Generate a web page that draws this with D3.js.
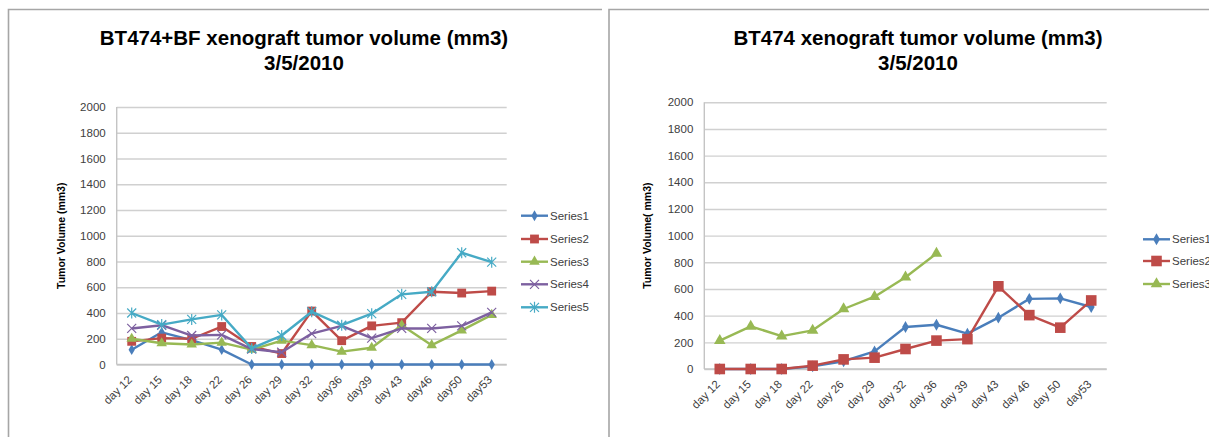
<!DOCTYPE html>
<html>
<head>
<meta charset="utf-8">
<script src="https://cdn.jsdelivr.net/npm/d3@7"></script>
<style>
  body { margin: 0; background: #fff; }
  svg { display: block; }
</style>
</head>
<body>
<svg id="chart" width="1209" height="437"></svg>
<script>
// tick labels / categories
let daysLeft = ['day 12', 'day 15', 'day 18', 'day 22', 'day 26', 'day 29', 'day 32', 'day36', 'day39', 'day 43', 'day46', 'day50', 'day53']
let daysRight = ['day 12', 'day 15', 'day 18', 'day 22', 'day 26', 'day 29', 'day 32', 'day 36', 'day 39', 'day 43', 'day 46', 'day 50', 'day53']
let yTicks = [0, 200, 400, 600, 800, 1000, 1200, 1400, 1600, 1800, 2000]

// BT474+BF (left chart)
let bfSeries1 = [115, 250, 190, 115, 0, 0, 0, 0, 0, 0, 0, 0, 0]
let bfSeries2 = [180, 205, 200, 295, 140, 85, 415, 185, 300, 325, 565, 555, 570]
let bfSeries3 = [200, 165, 155, 170, 115, 185, 150, 100, 130, 305, 150, 265, 385]
let bfSeries4 = [280, 305, 225, 230, 120, 95, 240, 300, 205, 280, 280, 300, 405]
let bfSeries5 = [400, 310, 350, 385, 125, 225, 410, 305, 395, 545, 565, 868, 795]

// BT474 (right chart)
let btSeries1 = [0, 0, 0, 20, 58, 132, 315, 332, 265, 385, 526, 530, 465]
let btSeries2 = [0, 0, 0, 25, 72, 85, 150, 213, 224, 620, 404, 310, 514]
let btSeries3 = [213, 320, 247, 290, 450, 542, 688, 866, null, null, null, null, null]

let seriesNames = ['Series1', 'Series2', 'Series3', 'Series4', 'Series5']
let colors = ['#4a7ebb', '#be4b48', '#98b954', '#7d60a0', '#46aac5']
let markers = ['diamond', 'square', 'triangle', 'x', 'star']

let font = 'Liberation Sans, Arial, sans-serif'
let svg = d3.select('#chart')

// frames
svg.append('path')
  .attr('d', 'M8.5,437 V9.5 H602')
  .attr('fill', 'none').attr('stroke', '#a6a6a6').attr('stroke-width', 1.6)
svg.append('path')
  .attr('d', 'M609,437 V9.5 H1209')
  .attr('fill', 'none').attr('stroke', '#a6a6a6').attr('stroke-width', 1.6)

function drawMarker(g, type, x, y, color, big) {
  let s = big ? 1.2 : 1
  if (type == 'diamond') {
    g.append('path').attr('transform', 'translate(' + x + ',' + y + ')')
      .attr('d', d3.symbol().type(d3.symbolDiamond).size(34 * s)())
      .attr('fill', color)
  } else if (type == 'square') {
    g.append('path').attr('transform', 'translate(' + x + ',' + y + ')')
      .attr('d', d3.symbol().type(d3.symbolSquare).size(78 * s * s)())
      .attr('fill', color)
  } else if (type == 'triangle') {
    g.append('path').attr('transform', 'translate(' + x + ',' + y + ')')
      .attr('d', d3.symbol().type(d3.symbolTriangle).size(48 * s)())
      .attr('fill', color)
  } else if (type == 'x') {
    let r = 4.5
    g.append('path')
      .attr('d', 'M' + (x - r) + ',' + (y - r) + 'L' + (x + r) + ',' + (y + r) + 'M' + (x - r) + ',' + (y + r) + 'L' + (x + r) + ',' + (y - r))
      .attr('stroke', color).attr('stroke-width', 1.2).attr('fill', 'none')
  } else if (type == 'star') {
    let r = 4.5
    g.append('path')
      .attr('d', 'M' + (x - r) + ',' + (y - r) + 'L' + (x + r) + ',' + (y + r) + 'M' + (x - r) + ',' + (y + r) + 'L' + (x + r) + ',' + (y - r) + 'M' + x + ',' + (y - r - 1) + 'L' + x + ',' + (y + r + 1))
      .attr('stroke', color).attr('stroke-width', 1.2).attr('fill', 'none')
  }
}

function drawChart(cfg) {
  let x = d3.scalePoint().domain(cfg.days).range([cfg.left, cfg.right]).padding(0.5)
  let y = d3.scaleLinear().domain([0, 2000]).range([cfg.bottom, cfg.top])

  let g = svg.append('g')

  // gridlines + y tick labels
  g.append('g')
    .attr('transform', 'translate(' + cfg.left + ',0)')
    .call(d3.axisLeft(y).tickValues(yTicks).tickFormat(d3.format('d'))
      .tickSize(-(cfg.right - cfg.left)).tickPadding(11))
    .call(a => a.select('.domain').remove())
    .call(a => a.selectAll('line').attr('stroke', '#d0d0d0').attr('stroke-width', 1.4))
    .call(a => a.selectAll('text').attr('font-family', font)
      .attr('font-size', '11.5px').attr('fill', '#404040'))

  // axis lines
  g.append('line').attr('x1', cfg.left).attr('x2', cfg.left).attr('y1', cfg.top).attr('y2', cfg.bottom)
    .attr('stroke', '#c4c4c4').attr('stroke-width', 1.4)
  g.append('line').attr('x1', cfg.left).attr('x2', cfg.right).attr('y1', cfg.bottom).attr('y2', cfg.bottom)
    .attr('stroke', '#c4c4c4').attr('stroke-width', 1.4)

  // x labels
  g.selectAll('.xl').data(cfg.days).enter().append('text')
    .attr('transform', d => 'translate(' + (x(d) + 1) + ',' + (cfg.bottom + 16) + ') rotate(-45)')
    .attr('text-anchor', 'end')
    .attr('font-family', font)
    .attr('font-size', '11.5px').attr('fill', '#404040')
    .text(d => d)

  // y title
  g.append('text')
    .attr('transform', 'translate(' + cfg.yTitleX + ',' + ((cfg.top + cfg.bottom) / 2) + ') rotate(-90)')
    .attr('text-anchor', 'middle')
    .attr('font-family', font)
    .attr('font-weight', 'bold').attr('font-size', '10.5px').attr('fill', '#000')
    .text(cfg.yTitle)

  // title
  let t = g.append('text').attr('text-anchor', 'middle')
    .attr('font-family', font)
    .attr('font-weight', 'bold').attr('font-size', '20.5px').attr('fill', '#000')
  t.append('tspan').attr('x', cfg.titleX).attr('y', 45).text(cfg.title)
  t.append('tspan').attr('x', cfg.titleX).attr('y', 70).text('3/5/2010')

  // lines
  let line = d3.line()
    .defined(d => d != null)
    .x((d, i) => x(cfg.days[i]))
    .y(d => y(d))

  cfg.series.forEach((vals, k) => {
    g.append('path').datum(vals)
      .attr('fill', 'none').attr('stroke', colors[k]).attr('stroke-width', 2.4)
      .attr('stroke-linejoin', 'round')
      .attr('d', line)
    vals.forEach((v, i) => {
      if (v != null) drawMarker(g, markers[k], x(cfg.days[i]), y(v), colors[k], cfg.big)
    })
  })

  // legend
  cfg.series.forEach((vals, k) => {
    let ly = cfg.legendY[k]
    g.append('line').attr('x1', cfg.legendX).attr('x2', cfg.legendX + 27).attr('y1', ly).attr('y2', ly)
      .attr('stroke', colors[k]).attr('stroke-width', 2.4)
    drawMarker(g, markers[k], cfg.legendX + 13.5, ly, colors[k], cfg.big)
    g.append('text').attr('x', cfg.legendX + 29).attr('y', ly + 4)
      .attr('font-family', font)
      .attr('font-size', '11.5px').attr('fill', '#404040')
      .text(seriesNames[k])
  })
}

drawChart({
  days: daysLeft,
  series: [bfSeries1, bfSeries2, bfSeries3, bfSeries4, bfSeries5],
  left: 116.7, right: 506.7, top: 107, bottom: 364.5,
  title: 'BT474+BF xenograft tumor volume (mm3)', titleX: 304,
  yTitle: 'Tumor Volume (mm3)', yTitleX: 65,
  legendX: 521, legendY: [215.7, 239, 261.7, 284.3, 307.3],
  big: false
})

drawChart({
  days: daysRight,
  series: [btSeries1, btSeries2, btSeries3],
  left: 704.3, right: 1106.7, top: 102.3, bottom: 369,
  title: 'BT474 xenograft tumor volume (mm3)', titleX: 918,
  yTitle: 'Tumor Volume( mm3)', yTitleX: 651,
  legendX: 1143, legendY: [239.3, 261, 284],
  big: true
})
</script>
</body>
</html>
